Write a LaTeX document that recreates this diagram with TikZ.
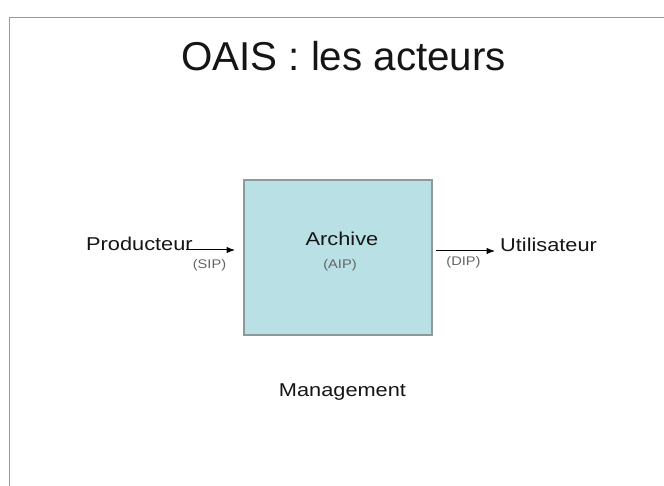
\documentclass[tikz,border=0pt]{standalone}
\usepackage{fontspec}
\setmainfont{Liberation Sans}
\newfontfamily\widefont[FakeStretch=1.17]{Liberation Sans}
\usetikzlibrary{arrows.meta}
\definecolor{boxfill}{HTML}{B9E0E4}
\definecolor{boxline}{HTML}{8C9A9C}
\definecolor{framegray}{HTML}{9A9A9A}
\definecolor{textdark}{HTML}{151515}
\definecolor{labelgray}{HTML}{656565}
\tikzset{
  lbl/.style={inner sep=0pt, anchor=base, text=textdark, font=\widefont\fontsize{18.6}{22}\selectfont},
  small/.style={inner sep=0pt, anchor=center, text=labelgray, font=\widefont\fontsize{12.5}{14}\selectfont},
  arr/.style={draw=black, line width=1pt, -{Latex[length=8.5pt,width=6.5pt]}},
}
\begin{document}
\begin{tikzpicture}[x=1pt,y=-1pt]
\useasboundingbox (0,0) rectangle (664,486);
\fill[white] (0,0) rectangle (664,486);
% slide frame
\draw[framegray, line width=1.5pt] (9.5,486) -- (9.5,17.5) -- (664,17.5);
% title
\node[inner sep=0pt, anchor=base, text=textdark, font=\fontsize{40.3}{48}\selectfont] (title) at (343.5,71) {OAIS : les acteurs};
% archive box
\node[draw=boxline, fill=boxfill, line width=1.5pt, minimum width=188pt, minimum height=155pt, inner sep=0pt] (arch) at (338,257.5) {};
\node[lbl] (archlbl) at (342,246) {Archive};
\node[small] (aip) at (340,265) {(AIP)};
% actors
\node[lbl, anchor=base west] (prod) at (86,251) {Producteur};
\node[lbl, anchor=base west] (util) at (500,252) {Utilisateur};
\node[lbl] (mgmt) at (342.5,396) {Management};
% flow labels
\node[small] (sip) at (209.5,265) {(SIP)};
\node[small] (dip) at (463.5,262.5) {(DIP)};
% connectors
\coordinate (pstart) at (186,250);
\coordinate (pend) at (235,250);
\coordinate (ustart) at (436,251);
\coordinate (uend) at (495,251);
\draw[arr] (pstart) -- (pend);
\draw[arr] (ustart) -- (uend);
\end{tikzpicture}
\end{document}
